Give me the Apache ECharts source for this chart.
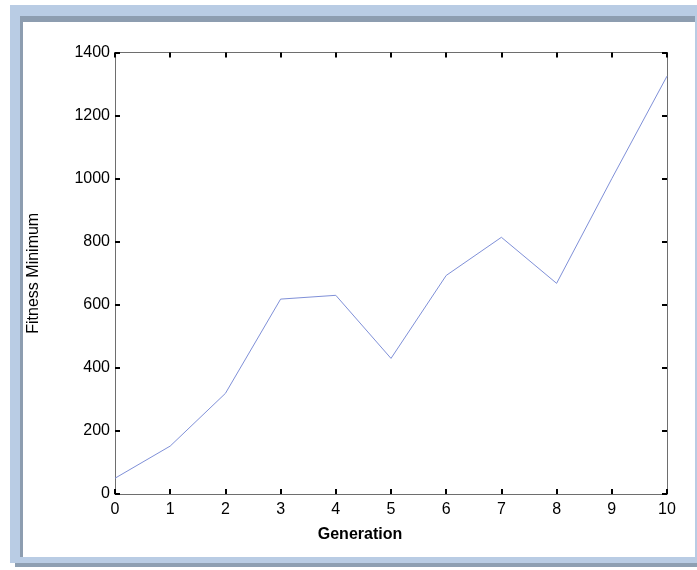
<!DOCTYPE html>
<html>
<head>
<meta charset="utf-8">
<script src="https://cdn.jsdelivr.net/npm/echarts@6/dist/echarts.min.js"></script>
<style>
html,body{margin:0;padding:0;background:#fff;}
#chart{width:697px;height:570px;}
</style>
</head>
<body>
<div id="chart"></div>
<script>
var generations = [0, 1, 2, 3, 4, 5, 6, 7, 8, 9, 10];
var fitnessMinimum = [50, 152, 319, 618, 630, 430, 693, 814, 668, 1000, 1325];
var xTitle = 'Generation';
var yTitle = 'Fitness Minimum';

var points = generations.map(function (g, i) { return [g, fitnessMinimum[i]]; });
var chart = echarts.init(document.getElementById('chart'), null, {renderer: 'canvas'});

var FONT = 'Liberation Sans, Arial, sans-serif';
var axisLineStyle = {color: '#6e6e6e', width: 1};
var tickStyle = {show: true, inside: true, length: 5, lineStyle: {color: '#000', width: 2}};
var plain = function (v) { return String(v); };

chart.setOption({
  backgroundColor: '#ffffff',
  animation: false,
  graphic: [
    {type: 'rect', z: -100, shape: {x: 10, y: 5, width: 700, height: 558}, style: {fill: '#b9cce4'}},
    {type: 'rect', z: -100, shape: {x: 15, y: 563, width: 700, height: 4}, style: {fill: '#8e9fb2'}},
    {type: 'rect', z: -99, shape: {x: 20, y: 16, width: 675, height: 541}, style: {fill: '#8d9db0'}},
    {type: 'rect', z: -98, shape: {x: 23, y: 22, width: 672, height: 535}, style: {fill: '#ffffff'}}
  ],
  grid: {left: 115, right: 30, top: 52.5, bottom: 76, containLabel: false},
  xAxis: [
    {
      type: 'value', min: 0, max: 10, interval: 1, position: 'bottom',
      name: xTitle, nameLocation: 'middle', nameGap: 33,
      nameTextStyle: {fontFamily: FONT, fontSize: 16, fontWeight: 'bold', color: '#000', padding: [0, 62, 0, 0]},
      axisLine: {show: true, onZero: false, lineStyle: axisLineStyle},
      axisTick: tickStyle,
      axisLabel: {fontFamily: FONT, fontSize: 16, color: '#000', margin: 8, formatter: plain},
      splitLine: {show: false}
    },
    {
      type: 'value', min: 0, max: 10, interval: 1, position: 'top',
      axisLine: {show: true, onZero: false, lineStyle: axisLineStyle},
      axisTick: tickStyle,
      axisLabel: {show: false},
      splitLine: {show: false}
    }
  ],
  yAxis: [
    {
      type: 'value', min: 0, max: 1400, interval: 200, position: 'left',
      name: yTitle, nameLocation: 'middle', nameGap: 73, nameRotate: 90,
      nameTextStyle: {fontFamily: FONT, fontSize: 16, color: '#000'},
      axisLine: {show: true, onZero: false, lineStyle: axisLineStyle},
      axisTick: tickStyle,
      axisLabel: {fontFamily: FONT, fontSize: 16, color: '#000', margin: 5, formatter: plain},
      splitLine: {show: false}
    },
    {
      type: 'value', min: 0, max: 1400, interval: 200, position: 'right',
      axisLine: {show: true, onZero: false, lineStyle: axisLineStyle},
      axisTick: tickStyle,
      axisLabel: {show: false},
      splitLine: {show: false}
    }
  ],
  series: [{
    type: 'line',
    data: points,
    xAxisIndex: 0, yAxisIndex: 0,
    showSymbol: false,
    lineStyle: {color: '#7f90d8', width: 1},
    itemStyle: {color: '#7f90d8'}
  }]
});
</script>
</body>
</html>
